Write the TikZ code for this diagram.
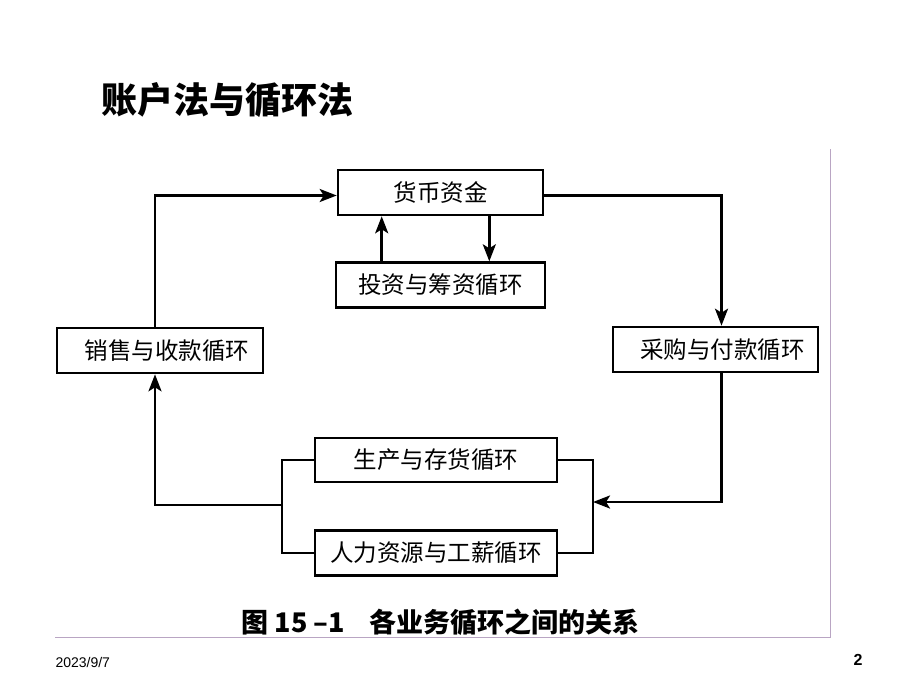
\documentclass[tikz,border=0pt]{standalone}
\usepackage{fontspec}
\setmainfont{Liberation Sans}
\newfontfamily\cjk{Noto Sans CJK SC}
\usetikzlibrary{arrows.meta,positioning}
\tikzset{
  cyc/.style={draw,line width=2.6pt,inner sep=0pt,minimum height=45pt,
    font=\cjk\fontsize{23.5}{23.5}\selectfont},
  flow/.style={line width=2.6pt,-{Stealth[length=17pt,width=13pt,inset=4pt]}},
  link/.style={line width=2.6pt},
  frame/.style={line width=0.8pt,color={rgb,255:red,185;green,165;blue,195}},
}

\begin{document}
\begin{tikzpicture}[x=1pt,y=-1pt]
\useasboundingbox (0,0) rectangle (920,690);
% Title of the slide
\node[anchor=west,font=\cjk\bfseries\fontsize{36}{36}\selectfont] (title) at (98,100) {账户法与循环法};
% The cycles, money in the middle
\node[cyc,minimum width=205pt] (money) at (440.5,192.5) {货币资金};
\node[cyc,minimum width=209pt,below=45pt of money] (invest) {投资与筹资循环};
\node[cyc,minimum width=206pt] (sales) at (160,350.5) {\hspace{14pt}销售与收款循环};
\node[cyc,minimum width=205pt] (purchase) at (715.5,349.5) {\hspace{14pt}采购与付款循环};
\node[cyc,minimum width=242pt,minimum height=44pt] (produce) at (436,460) {生产与存货循环};
\node[cyc,minimum width=242pt,below=46pt of produce] (labor) {人力资源与工薪循环};
% Joints where the two lower cycles meet
\coordinate (ljoin) at (282,505);
\coordinate (rjoin) at (593,502);
% Now connect the nodes
\draw[flow] ([xshift=47pt]invest.north west) -- ([xshift=47pt]invest.north west |- money.south);
\draw[flow] ([xshift=-55pt]money.south east) -- ([xshift=-55pt]money.south east |- invest.north);
\draw[flow] ([xshift=-5pt]sales.north) |- ([yshift=-3pt]money.west);
\draw[flow] ([yshift=-3pt]money.east) -| ([xshift=6pt]purchase.north);
\draw[flow] ([xshift=6pt]purchase.south) |- (rjoin);
\draw[link] (produce.east) -| (rjoin) |- (labor.east);
\draw[link] (produce.west) -| (ljoin) |- (labor.west);
\draw[flow] (ljoin) -| ([xshift=-5pt]sales.south);
% Caption and page frame
\node[anchor=west,font=\cjk\bfseries\fontsize{27}{27}\selectfont] (caption) at (238,622) {图 15 –1\hspace{24pt}各业务循环之间的关系};
\draw[frame] (55,637) -- (830,637) -- (830,149);
\node[anchor=west,font=\fontsize{14}{14}\selectfont] (date) at (52,662) {2023/9/7};
\node[font=\bfseries\fontsize{16}{16}\selectfont] (page) at (858,660) {2};
\end{tikzpicture}
\end{document}
